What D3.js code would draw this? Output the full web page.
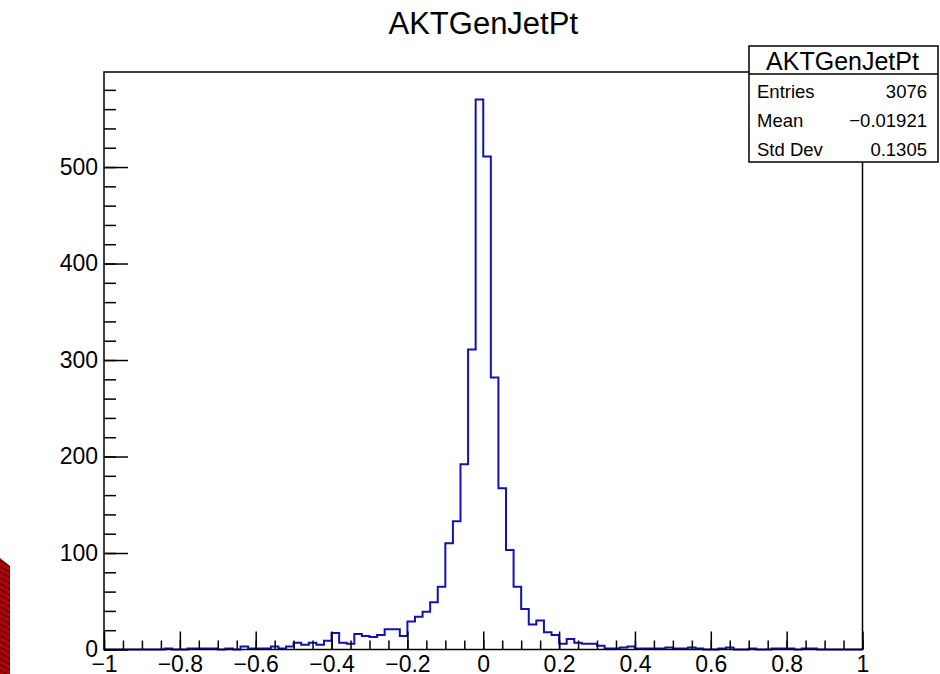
<!DOCTYPE html>
<html>
<head>
<meta charset="utf-8">
<script src="https://cdn.jsdelivr.net/npm/d3@7"></script>
<style>
  body { margin: 0; background: #fff; }
  text { font-family: "Liberation Sans", Arial, Helvetica, sans-serif; fill: #000; }
</style>
</head>
<body>
<div id="chart"></div>
<script>
var svgWidth = 940;
var svgHeight = 674;

// histogram: 100 bins of 0.02 between -1 and 1
var title = "AKTGenJetPt";
var xRange = [-1, 1];
var nBins = 100;
var counts = [
  0, 0, 0, 0, 0, 0, 0, 0, 1, 0,
  0, 1, 1, 1, 1, 0, 1, 0, 3, 1,
  1, 1, 3, 1, 3, 7, 5, 7, 5, 9,
  17, 7, 6, 16, 14, 13, 15, 21, 21, 14,
  29, 34, 39, 49, 65, 110, 133, 192, 311, 570,
  511, 282, 167, 103, 65, 42, 26, 30, 18, 15,
  6, 11, 7, 6, 6, 4, 1, 1, 2, 3,
  1, 1, 1, 1, 2, 1, 1, 2, 1, 0,
  0, 1, 2, 0, 0, 1, 0, 0, 1, 1,
  1, 0, 1, 1, 0, 0, 0, 0, 0, 0
];
var xTicks = [-1, -0.8, -0.6, -0.4, -0.2, 0, 0.2, 0.4, 0.6, 0.8, 1];
var yTicks = [0, 100, 200, 300, 400, 500];
var statsLabels = ["Entries", "Mean", "Std Dev"];
var statsValues = ["3076", "\u22120.01921", "0.1305"];

var margin = { top: 72, right: 77.5, bottom: 24.5, left: 104 };
var width = svgWidth - margin.left - margin.right;
var height = svgHeight - margin.top - margin.bottom;

var svg = d3.select("#chart")
  .append("svg")
  .attr("width", svgWidth)
  .attr("height", svgHeight);

// red hatched fragment at the lower left corner
var defs = svg.append("defs");
var pat = defs.append("pattern")
  .attr("id", "hatch")
  .attr("patternUnits", "userSpaceOnUse")
  .attr("width", 5).attr("height", 5)
  .attr("patternTransform", "rotate(30)");
pat.append("rect").attr("width", 5).attr("height", 5).attr("fill", "#b30000");
pat.append("line").attr("x1", 0).attr("y1", 0).attr("x2", 5).attr("y2", 0)
  .attr("stroke", "#220000").attr("stroke-width", 1.8);
svg.append("path")
  .attr("d", "M0,558 L10,566 L10,674 L0,674 Z")
  .attr("fill", "url(#hatch)");

var chartGroup = svg.append("g")
  .attr("transform", `translate(${margin.left}, ${margin.top})`);

var x = d3.scaleLinear().domain(xRange).range([0, width]);
var yMax = d3.max(counts) * 1.05;
var y = d3.scaleLinear().domain([0, yMax]).range([height, 0]);

var binW = (xRange[1] - xRange[0]) / nBins;

// step outline
var pts = [];
pts.push([x(xRange[0]), y(0)]);
counts.forEach(function (c, i) {
  var lo = xRange[0] + i * binW;
  pts.push([x(lo), y(c)]);
  pts.push([x(lo + binW), y(c)]);
});
pts.push([x(xRange[1]), y(0)]);

chartGroup.append("path")
  .attr("d", d3.line()(pts))
  .attr("fill", "none")
  .attr("stroke", "#1212b0")
  .attr("stroke-width", 2);

// minor ticks
var xMinor = d3.range(0, 41).map(i => xRange[0] + i * 0.05);
var yMinor = d3.range(0, 30).map(i => i * 20);

chartGroup.append("g")
  .attr("transform", `translate(0, ${height})`)
  .call(d3.axisBottom(x).tickValues(xMinor).tickSize(-9).tickFormat(""))
  .call(g => g.select(".domain").remove());
chartGroup.append("g")
  .call(d3.axisLeft(y).tickValues(yMinor).tickSize(-12).tickFormat(""))
  .call(g => g.select(".domain").remove());

// major ticks + labels
var fmt = d3.format("~g");
var bottomAxis = chartGroup.append("g")
  .attr("transform", `translate(0, ${height})`)
  .call(d3.axisBottom(x).tickValues(xTicks).tickSize(-18).tickPadding(6).tickFormat(fmt))
  .call(g => g.select(".domain").remove());
bottomAxis.selectAll("text").attr("font-size", 23).attr("font-family", null);

var leftAxis = chartGroup.append("g")
  .call(d3.axisLeft(y).tickValues(yTicks).tickSize(-24).tickPadding(6).tickFormat(fmt))
  .call(g => g.select(".domain").remove());
leftAxis.selectAll("text").attr("font-size", 23).attr("font-family", null);

chartGroup.selectAll(".tick line").attr("stroke", "#000").attr("stroke-width", 1.5);

// frame
chartGroup.append("rect")
  .attr("x", 0).attr("y", 0)
  .attr("width", width).attr("height", height)
  .attr("fill", "none")
  .attr("stroke", "#000")
  .attr("stroke-width", 1.5);

// title
svg.append("text")
  .attr("x", margin.left + width / 2)
  .attr("y", 34)
  .attr("text-anchor", "middle")
  .attr("font-size", 31)
  .text(title);

// stats box
var box = { x: 749, y: 46, w: 189, h: 116, head: 28 };
var stats = svg.append("g");
stats.append("rect")
  .attr("x", box.x).attr("y", box.y)
  .attr("width", box.w).attr("height", box.h)
  .attr("fill", "#fff")
  .attr("stroke", "#000")
  .attr("stroke-width", 1.5);
stats.append("line")
  .attr("x1", box.x).attr("x2", box.x + box.w)
  .attr("y1", box.y + box.head).attr("y2", box.y + box.head)
  .attr("stroke", "#000").attr("stroke-width", 1.5);
stats.append("text")
  .attr("x", box.x + box.w / 2 - 1)
  .attr("y", box.y + 24)
  .attr("text-anchor", "middle")
  .attr("font-size", 25)
  .text(title);
statsLabels.forEach(function (lab, i) {
  var by = 98 + i * 29;
  stats.append("text")
    .attr("x", box.x + 8).attr("y", by)
    .attr("font-size", 18.5)
    .text(lab);
  stats.append("text")
    .attr("x", box.x + box.w - 11).attr("y", by)
    .attr("text-anchor", "end")
    .attr("font-size", 18.5)
    .text(statsValues[i]);
});
</script>
</body>
</html>
